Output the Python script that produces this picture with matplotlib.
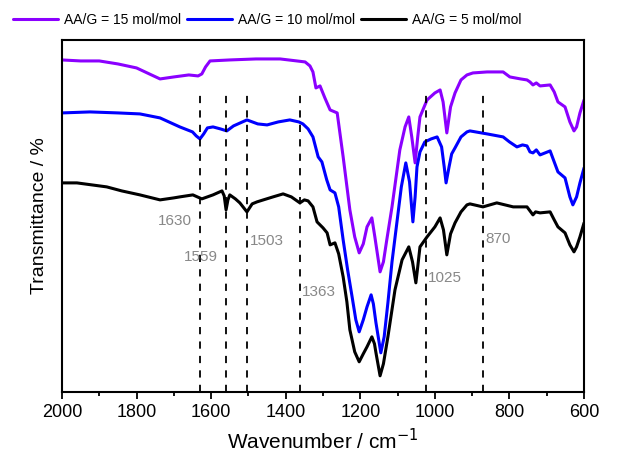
"""
FTIR spectra of AA/G samples (transmittance, offset curves)
"""
import matplotlib
matplotlib.use("Agg")
import matplotlib.pyplot as plt
from matplotlib.ticker import MultipleLocator

plt.rcParams['font.family'] = ['Liberation Sans', 'DejaVu Sans']

# AA/G = 15 mol/mol
wn_15 = [2000, 1950, 1900, 1850, 1800, 1760, 1737, 1700, 1660, 1635, 1625, 1615, 1603,
         1550, 1480, 1415, 1370, 1348, 1335, 1327, 1319, 1308, 1295, 1281, 1262, 1246,
         1228, 1215, 1203, 1192, 1182, 1169, 1161, 1147, 1138, 1129, 1115, 1094, 1080,
         1070, 1062, 1053, 1046, 1040, 1021, 1000, 986, 978, 968, 958, 946, 930, 914,
         898, 860, 817, 799, 770, 753, 745, 737, 728, 718, 691, 680, 670, 651, 638,
         627, 620, 611, 600]
t_15 = [332, 331, 331, 328, 324, 317, 313, 315, 317, 316, 318, 325, 331,
        332, 333, 333, 331, 330, 326, 320, 304, 306, 294, 282, 279, 235,
        182, 155, 139, 148, 165, 174, 155, 120, 130, 152, 185, 242, 265,
        275, 255, 229, 255, 275, 292, 299, 302, 290, 259, 285, 299, 312, 317,
        319, 320, 320, 315, 313, 312, 310, 307, 309, 306, 307, 300, 290, 285, 270,
        261, 265, 279, 292]

# AA/G = 10 mol/mol
wn_10 = [2000, 1925, 1850, 1791, 1737, 1684, 1650, 1640, 1630, 1620, 1610, 1595, 1575,
         1558, 1540, 1504, 1475, 1450, 1420, 1389, 1365, 1354, 1340, 1327, 1313, 1303,
         1290, 1281, 1268, 1258, 1246, 1234, 1222, 1212, 1203, 1192, 1182, 1171, 1165,
         1158, 1145, 1136, 1126, 1115, 1102, 1090, 1078, 1068, 1059, 1053, 1048, 1040,
         1027, 1010, 994, 982, 975, 970, 962, 955, 946, 930, 914, 906, 860, 817, 800,
         780, 765, 753, 745, 737, 728, 718, 691, 680, 670, 651, 638, 630, 620, 611, 600]
t_10 = [279, 280, 279, 278, 274, 265, 260, 256, 253, 258, 264, 265, 263,
        261, 266, 272, 268, 267, 270, 272, 270, 268, 263, 255, 235, 230,
        212, 202, 199, 185, 152, 122, 95, 72, 60, 72, 85, 97, 88,
        69, 39, 55, 89, 130, 169, 205, 229, 210, 170, 195, 225, 240,
        250, 253, 255, 245, 225, 209, 225, 238, 244, 255, 260, 261, 258, 255, 250,
        245, 247, 246, 240, 239, 242, 237, 241, 230, 220, 214, 195, 187, 195, 209, 224]

# AA/G = 5 mol/mol
wn_5 = [2000, 1960, 1920, 1880, 1840, 1791, 1737, 1700, 1684, 1649, 1625, 1610, 1595,
        1571, 1565, 1560, 1555, 1550, 1535, 1523, 1504, 1490, 1477, 1460, 1434, 1407,
        1385, 1362, 1350, 1340, 1327, 1316, 1300, 1289, 1281, 1268, 1258, 1246, 1236,
        1228, 1215, 1203, 1192, 1182, 1169, 1162, 1158, 1147, 1138, 1126, 1107, 1088,
        1070, 1060, 1051, 1046, 1040, 1021, 1000, 986, 977, 968, 958, 946, 930, 914,
        906, 871, 834, 790, 753, 737, 730, 718, 691, 680, 670, 651, 638, 627, 620,
        611, 600]
t_5 = [209, 209, 207, 205, 201, 197, 192, 194, 195, 197, 193, 195, 197,
       201, 196, 182, 192, 197, 193, 189, 180, 188, 190, 192, 195, 198,
       195, 189, 192, 191, 185, 170, 164, 159, 147, 149, 138, 115, 90,
       62, 40, 30, 38, 45, 55, 48, 39, 16, 28, 55, 102, 132,
       145, 130, 109, 125, 145, 155, 165, 174, 162, 137, 158, 169, 180, 187,
       188, 185, 189, 185, 185, 177, 180, 179, 180, 172, 165, 159, 147, 140, 145,
       155, 169]

# marked bands and their labels
peaks = [1630, 1559, 1503, 1363, 1025, 870]
peak_label_y = [171, 135, 151, 100, 114, 153]
peak_label_side = ['left', 'left', 'right', 'right', 'right', 'right']

fig = plt.figure(figsize=(6.39, 4.54), dpi=100)
ax = fig.add_axes([0.097, 0.137, 0.817, 0.775])

line_kw = dict(lw=2.2, solid_joinstyle='round', solid_capstyle='round')
ax.plot(wn_15, t_15, color='#8B00FF', label='AA/G = 15 mol/mol', **line_kw)
ax.plot(wn_10, t_10, color='#0000FF', label='AA/G = 10 mol/mol', **line_kw)
ax.plot(wn_5, t_5, color='black', label='AA/G = 5 mol/mol', **line_kw)

for p, ly, side in zip(peaks, peak_label_y, peak_label_side):
    ax.plot([p, p], [0, 300], ls=(0, (4, 4)), color='black', lw=1.3)
    if side == 'left':
        ax.text(p + 22, ly, str(p), color='#888888', fontsize=11, ha='right', va='center')
    else:
        ax.text(p - 6, ly, str(p), color='#888888', fontsize=11, ha='left', va='center')

ax.set_xlim(2000, 600)
ax.set_ylim(0, 352)
ax.xaxis.set_major_locator(MultipleLocator(200))
ax.xaxis.set_minor_locator(MultipleLocator(100))
ax.tick_params(axis='x', which='major', direction='out', length=5, width=1.3, labelsize=13)
ax.tick_params(axis='x', which='minor', direction='out', length=3, width=1.3)
ax.set_yticks([])
for s in ax.spines.values():
    s.set_linewidth(1.5)

ax.set_xlabel('Wavenumber / cm$^{-1}$', fontsize=15, labelpad=5)
ax.set_ylabel('Transmittance / %', fontsize=14, labelpad=10)

fig.legend(loc='upper left', bbox_to_anchor=(0.0, 1.0), ncol=3, frameon=False,
           fontsize=10, handlelength=3.3, handletextpad=0.4, columnspacing=0.4)

fig.savefig('out.png', dpi=100)
